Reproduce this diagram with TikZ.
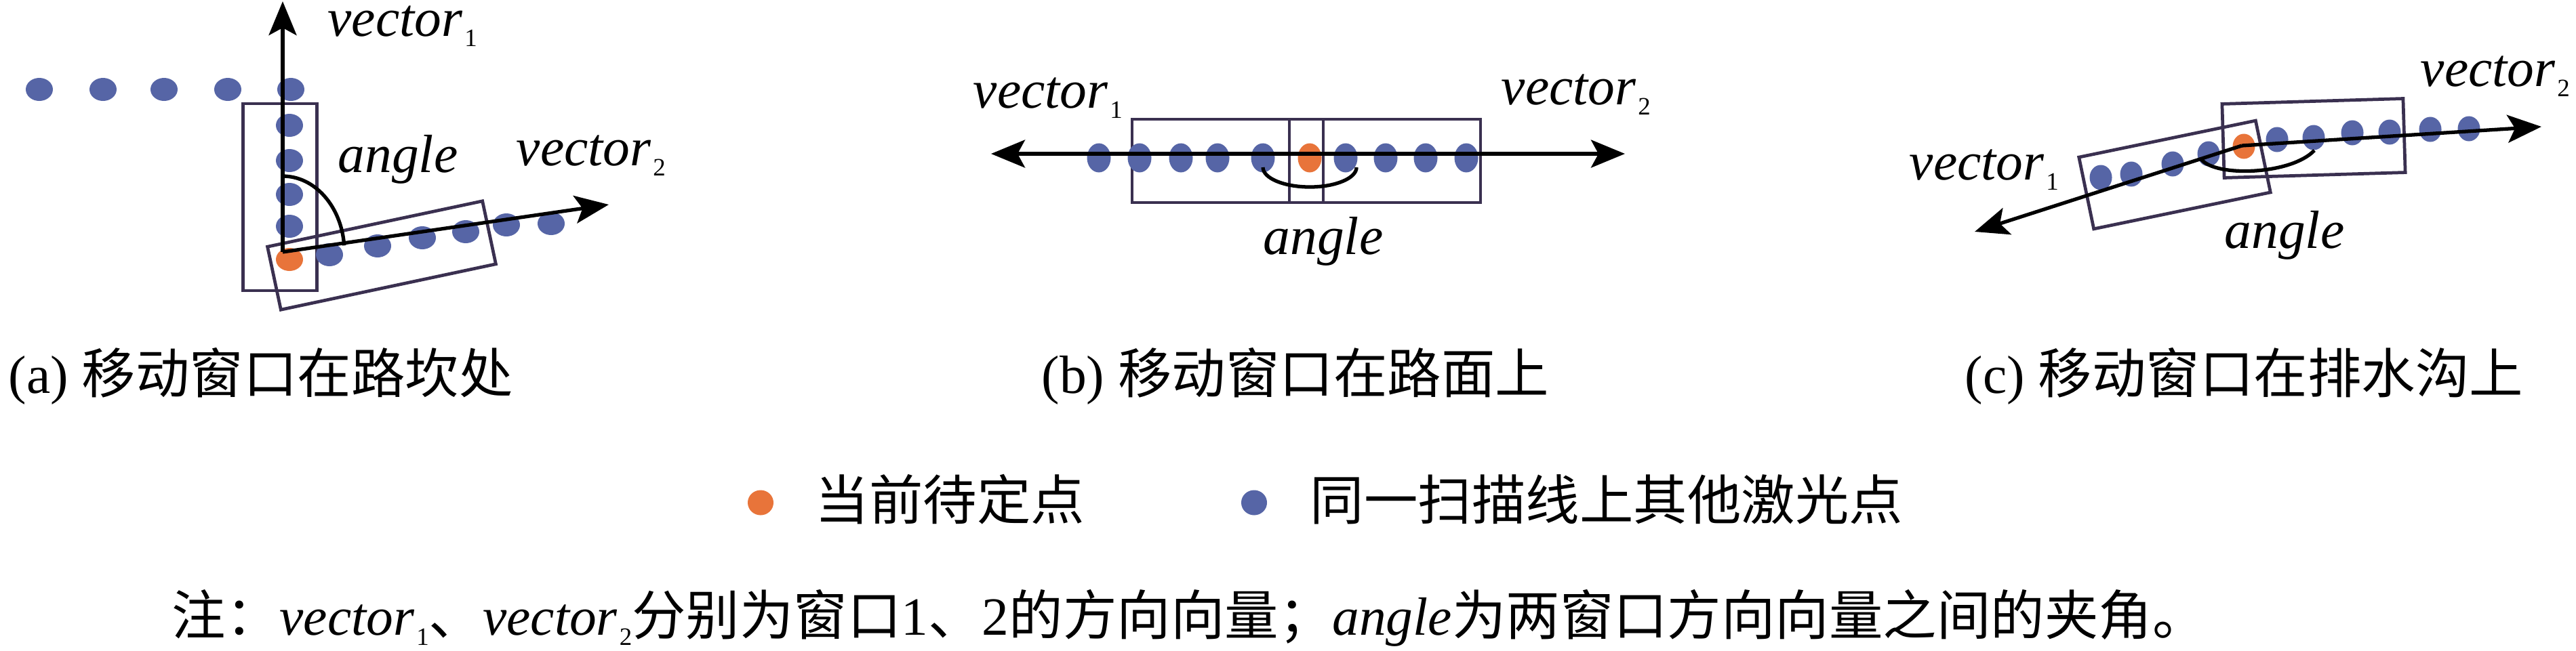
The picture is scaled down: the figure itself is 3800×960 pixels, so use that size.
\documentclass[tikz,border=0pt]{standalone}
\usepackage{fontspec}
\setmainfont{Liberation Serif}
\newfontfamily\cjk{Noto Sans CJK SC}
\usetikzlibrary{arrows.meta,shapes.geometric}
\definecolor{dotblue}{RGB}{86,101,166}
\definecolor{dotorange}{RGB}{232,116,58}
\definecolor{winline}{RGB}{58,48,80}
\newcommand\vsub[1]{\kern0.8pt\raisebox{-4.3pt}{\fontsize{10.5pt}{11pt}\selectfont #1}}
\begin{document}
\begin{tikzpicture}[x=0.01cm,y=-0.01cm,
  every node/.style={font=\fontsize{22.6pt}{27pt}\selectfont},
  bdot/.style={ellipse,fill=dotblue,inner sep=0pt,draw=none},
  odot/.style={ellipse,fill=dotorange,inner sep=0pt,draw=none},
  da/.style={minimum width=0.40cm,minimum height=0.34cm},
  db/.style={minimum width=0.35cm,minimum height=0.43cm},
  dc/.style={minimum width=0.33cm,minimum height=0.37cm},
  dl/.style={minimum width=0.38cm,minimum height=0.37cm},
  win/.style={rectangle,draw=winline,line width=1.35pt,inner sep=0pt},
  vec/.style={line width=1.5pt,-{Stealth[length=0.5cm,width=0.41cm,inset=0.11cm]}},
  lbl/.style={anchor=base west,inner sep=0pt},
  arcline/.style={line width=1.5pt}
]
\path[use as bounding box] (0,0) rectangle (3800,960);

% ---------- panel (a)
\node[win,minimum width=1.09cm,minimum height=2.76cm] (aw1) at (413,291) {};
\node[win,minimum width=3.24cm,minimum height=0.95cm,rotate=12] (aw2) at (563,377) {};
\foreach \x [count=\i] in {58,152,242,336,429}{\node[bdot,da] (ar\i) at (\x,132) {};}
\foreach \y [count=\i] in {185,237,287,334}{\node[bdot,da] (ac\i) at (427,\y) {};}
\foreach \x/\y [count=\i] in {486/376,557/363,623/351,687/342,747/332,813/330}{\node[bdot,da] (ad\i) at (\x,\y) {};}
\node[odot,da] (ao0) at (427,383) {};
\coordinate (ao) at (417,372);
\coordinate (a1) at (417,2);
\coordinate (a2) at (898,302);
\draw[vec] (ao) -- (a1);
\draw[vec] (ao) -- (a2);
\draw[arcline] (417,260) arc[start angle=90,end angle=5,x radius=0.91cm,y radius=1.12cm];
\node[lbl,text height=0.45cm] (av1) at (483,53) {\textit{vector}\vsub{1}};
\node[lbl] (av2) at (761,244) {\textit{vector}\vsub{2}};
\node[lbl] (aan) at (498,254) {\textit{angle}};

% ---------- panel (b)
\node[win,minimum width=2.82cm,minimum height=1.23cm] (bw1) at (1811,237.5) {};
\node[win,minimum width=2.82cm,minimum height=1.23cm] (bw2) at (2043,237.5) {};
\foreach \x [count=\i] in {1621,1681,1742,1796,1863,1985,2044,2103,2163}{\node[bdot,db] (bd\i) at (\x,233) {};}
\node[odot,db] (bo0) at (1932,233) {};
\coordinate (bo) at (1932,227);
\coordinate (bl) at (1462,227);
\coordinate (br) at (2397,227);
\draw[vec] (bo) -- (bl);
\draw[vec] (bo) -- (br);
\draw[arcline] (1863,247) arc[start angle=180,end angle=360,x radius=0.69cm,y radius=0.29cm];
\node[lbl] (bv1) at (1435,159) {\textit{vector}\vsub{1}};
\node[lbl] (bv2) at (2214,154) {\textit{vector}\vsub{2}};
\node[lbl] (ban) at (1863,375) {\textit{angle}};

% ---------- panel (c)
\node[win,minimum width=2.67cm,minimum height=1.09cm,rotate=1.7] (cw2) at (3413,204) {};
\node[win,minimum width=2.66cm,minimum height=1.08cm,rotate=11.7] (cw1) at (3208,258) {};
\foreach \x/\y [count=\i] in {3099/262,3144/257,3205/242,3258/227,3359/206,3413/203,3470/196,3525/195,3585/191,3642/190}{\node[bdot,dc] (cd\i) at (\x,\y) {};}
\node[odot,dc] (co0) at (3310,216) {};
\coordinate (co) at (3307,215);
\coordinate (cl) at (2913,342);
\coordinate (cr) at (3749,187);
\draw[vec] (co) -- (cl);
\draw[vec] (co) -- (cr);
\draw[arcline] (3247,235) .. controls (3268,262) and (3380,258) .. (3414,222);
\node[lbl] (cv1) at (2816,265) {\textit{vector}\vsub{1}};
\node[lbl] (cv2) at (3570,127) {\textit{vector}\vsub{2}};
\node[lbl] (can) at (3281,366) {\textit{angle}};

% ---------- captions
\node[lbl] (capa) at (12,580) {(a) {\cjk 移动窗口在路坎处}};
\node[lbl] (capb) at (1536,580) {(b) {\cjk 移动窗口在路面上}};
\node[lbl] (capc) at (2898,580) {(c) {\cjk 移动窗口在排水沟上}};

% ---------- legend
\node[odot,dl] (lo) at (1122,742) {};
\node[lbl] (lot) at (1202,767) {\cjk 当前待定点};
\node[bdot,dl] (lb) at (1850,742) {};
\node[lbl] (lbt) at (1932,767) {\cjk 同一扫描线上其他激光点};

% ---------- note
\node[lbl] (note) at (253,937) {{\cjk 注：}\textit{vector}\vsub{1}{\cjk 、}\textit{vector}\vsub{2}{\cjk 分别为窗口}1{\cjk 、}2{\cjk 的方向向量；}\textit{angle}{\cjk 为两窗口方向向量之间的夹角。}};
\end{tikzpicture}
\end{document}
